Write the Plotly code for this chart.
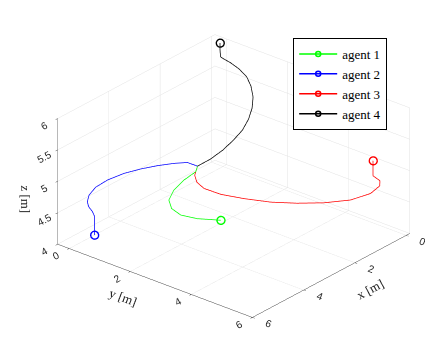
import plotly.graph_objects as go

agent_names = ["agent 1", "agent 2", "agent 3", "agent 4"]
agent_colors = ["#00ff00", "#0000ff", "#ff0000", "#000000"]

# agent 1 (green)
a1_x = [3.09, 3.28, 3.69, 4.12, 4.47, 4.65, 4.65, 4.43, 4.17, 3.96]
a1_y = [1.76, 1.86, 1.82, 1.85, 1.98, 2.22, 2.52, 2.88, 3.10, 3.25]
a1_z = [5.00, 4.97, 4.92, 4.86, 4.80, 4.75, 4.70, 4.66, 4.63, 4.60]

# agent 2 (blue)
a2_x = [3.09, 3.07, 3.27, 3.58, 3.91, 4.29, 4.73, 5.10, 5.40, 5.58, 5.67, 5.71, 5.84, 5.85, 5.85]
a2_y = [1.76, 1.41, 1.14, 0.86, 0.59, 0.36, 0.19, 0.11, 0.15, 0.24, 0.36, 0.52, 0.70, 0.70, 0.70]
a2_z = [5.00, 4.99, 4.97, 4.95, 4.92, 4.89, 4.85, 4.80, 4.75, 4.70, 4.66, 4.62, 4.60, 4.46, 4.31]

# agent 3 (red)
a3_x = [3.09, 3.39, 3.52, 3.59, 3.52, 3.33, 3.05, 2.67, 2.22, 1.67, 1.07, 0.59, 0.37, 0.27, 0.27]
a3_y = [1.76, 1.92, 2.10, 2.39, 2.88, 3.48, 4.12, 4.67, 5.17, 5.58, 5.73, 5.63, 5.45, 5.14, 5.14]
a3_z = [5.00, 4.95, 4.90, 4.87, 4.85, 4.85, 4.85, 4.85, 4.85, 4.85, 4.85, 4.85, 4.85, 4.85, 5.09]

# agent 4 (black)
a4_x = [3.09, 2.74, 2.32, 1.88, 1.49, 1.11, 0.77, 0.47, 0.22, 0.06, 0.01, 0.01, 0.06, 0.13, 0.14, 0.14]
a4_y = [1.76, 1.89, 1.94, 1.92, 1.89, 1.77, 1.60, 1.38, 1.10, 0.83, 0.55, 0.26, 0.07, 0.03, 0.02, 0.02]
a4_z = [5.00, 5.06, 5.12, 5.18, 5.25, 5.32, 5.39, 5.46, 5.53, 5.59, 5.65, 5.70, 5.74, 5.78, 5.89, 6.00]

x_ticks = [0, 2, 4, 6]
y_ticks = [0, 2, 4, 6]
z_ticks = [4, 4.5, 5, 5.5, 6]
z_ticktext = ["4", "4.5", "5", "5.5", "6"]

paths = [(a1_x, a1_y, a1_z), (a2_x, a2_y, a2_z), (a3_x, a3_y, a3_z), (a4_x, a4_y, a4_z)]

fig = go.Figure()
for name, color, (xs, ys, zs) in zip(agent_names, agent_colors, paths):
    fig.add_trace(go.Scatter3d(
        x=xs, y=ys, z=zs, mode="lines",
        line=dict(color=color, width=1.5),
        showlegend=False, hoverinfo="skip"))
    fig.add_trace(go.Scatter3d(
        x=[xs[-1]], y=[ys[-1]], z=[zs[-1]], mode="lines+markers", name=name,
        line=dict(color=color, width=1.5),
        marker=dict(symbol="circle-open", size=5, color=color,
                    line=dict(color=color, width=1.5)),
        hoverinfo="skip"))

tickfont = dict(family="Liberation Sans, Arial, sans-serif", size=11, color="#262626")
titlefont = dict(family="Liberation Serif, DejaVu Serif, serif", size=13, color="#262626")


def axis(title, rng, tv, tt=None):
    d = dict(
        title=dict(text=title, font=titlefont),
        range=rng, tickvals=tv, autorange=False,
        showbackground=False, gridcolor="#e2e2e2", gridwidth=1,
        zeroline=False, showline=True, linecolor="#404040", linewidth=1,
        ticks="outside", ticklen=3, tickcolor="#404040",
        tickfont=tickfont, showspikes=False)
    if tt is not None:
        d["ticktext"] = tt
    return d


r = 2.0
k = 1.373 * 1.013
cx, cy, cz = 0.059, -0.0705, 0.0
fig.update_layout(
    width=435, height=352,
    margin=dict(l=0, r=0, t=0, b=0),
    paper_bgcolor="white",
    scene=dict(
        domain=dict(x=[0.0, 1.0], y=[0.0, 1.0]),
        xaxis=axis("x [m]", [-0.14, 6], x_ticks),
        yaxis=axis("y [m]", [-0.38, 6], y_ticks),
        zaxis=axis("z [m]", [4, 6], z_ticks, z_ticktext),
        aspectmode="manual",
        aspectratio=dict(x=1.0 * k, y=1.039 * k, z=0.574 * k),
        camera=dict(
            projection=dict(type="orthographic"),
            eye=dict(x=0.685 * r + cx, y=0.575 * r + cy, z=0.448 * r + cz),
            up=dict(x=0, y=0, z=1),
            center=dict(x=cx, y=cy, z=cz)),
        bgcolor="white"),
    legend=dict(
        x=0.674, y=0.892, xanchor="left", yanchor="top",
        bordercolor="#000000", borderwidth=1, bgcolor="white",
        font=dict(family="Liberation Serif, DejaVu Serif, serif", size=13, color="#000000"),
        tracegroupgap=0, itemwidth=38),
    showlegend=True,
)

fig.write_html("out.html")
